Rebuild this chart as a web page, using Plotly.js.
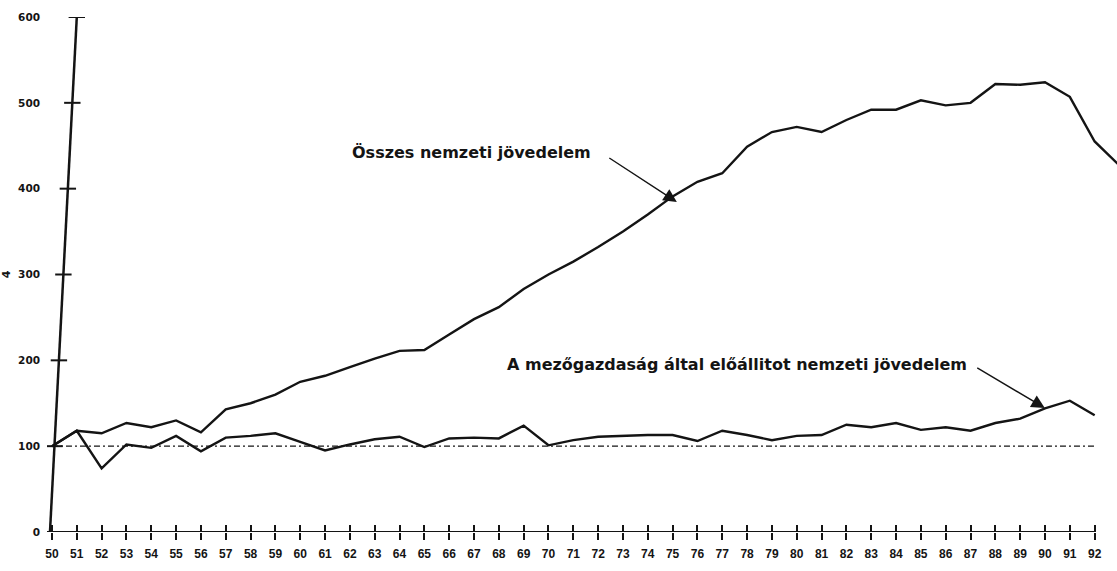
<!DOCTYPE html>
<html>
<head>
<meta charset="utf-8">
<script src="https://cdn.plot.ly/plotly-3.0.1.min.js"></script>
<style>
  html, body { margin: 0; padding: 0; background: #fff; }
  #chart { width: 1117px; height: 571px; }
</style>
</head>
<body>
<div id="chart"></div>
<script>
// ---- data ----
const years = [50,51,52,53,54,55,56,57,58,59,60,61,62,63,64,65,66,67,68,69,70,71,72,73,74,75,76,77,78,79,80,81,82,83,84,85,86,87,88,89,90,91,92,93];
const yearLabels = ['50','51','52','53','54','55','56','57','58','59','60','61','62','63','64','65','66','67','68','69','70','71','72','73','74','75','76','77','78','79','80','81','82','83','84','85','86','87','88','89','90','91','92'];
const totalIncome = [100,118,115,127,122,130,116,143,150,160,175,182,192,202,211,212,230,248,262,283,300,315,332,350,370,391,408,418,449,466,472,466,480,492,492,503,497,500,522,521,524,507,455,427];
const agriIncome = [100,118,74,102,98,112,94,110,112,115,105,95,102,108,111,99,109,110,109,124,101,107,111,112,113,113,106,118,113,107,112,113,125,122,127,119,122,118,127,132,144,153,136];
const yTicks = [0,100,200,300,400,500,600];
const baseLevel = 100;
const labelTotal = 'Összes nemzeti jövedelem';
const labelAgri = 'A mezőgazdaság által előállitot nemzeti jövedelem';
const yTitle = '4';

// ---- styling ----
const ink = '#141414';
const tickYears = years.slice(0, yearLabels.length);
const firstYear = tickYears[0], lastYear = tickYears[tickYears.length - 1];

// slanted y axis (scan skew): year-position of the axis at value v
const slantBottom = 49.92, slantTop = 51.0, yMax = yTicks[yTicks.length - 1];
const slantX = v => slantBottom + (v / yMax) * (slantTop - slantBottom);

const shapes = [];
// dashed 100 baseline
shapes.push({type: 'line', xref: 'x', yref: 'y', x0: firstYear, x1: lastYear, y0: baseLevel, y1: baseLevel,
  line: {color: ink, width: 1.4, dash: '6px,3px,2px,3px'}, layer: 'below'});
// x axis line
shapes.push({type: 'line', xref: 'x', yref: 'y', x0: 49.75, x1: lastYear, y0: 0, y1: 0,
  line: {color: ink, width: 2}});
// slanted y axis line
shapes.push({type: 'line', xref: 'x', yref: 'y', x0: slantX(-8), x1: slantX(yMax), y0: -8, y1: yMax,
  line: {color: ink, width: 2.5}});
// y tick marks on the slanted axis
yTicks.forEach(v => {
  if (v === 0) return;
  const c = slantX(v);
  shapes.push({type: 'line', xref: 'x', yref: 'y', x0: c - 0.33, x1: c + 0.33, y0: v, y1: v,
    line: {color: ink, width: 2}});
});

const traces = [
  {x: years.slice(0, totalIncome.length), y: totalIncome, type: 'scatter', mode: 'lines',
   line: {color: ink, width: 2.4}, name: labelTotal, hoverinfo: 'x+y'},
  {x: years.slice(0, agriIncome.length), y: agriIncome, type: 'scatter', mode: 'lines',
   line: {color: ink, width: 2.4}, name: labelAgri, hoverinfo: 'x+y'},
  // invisible trace on overlay axis to carry the upward half of the crossing tick marks
  {x: [firstYear, lastYear], y: [baseLevel, baseLevel], xaxis: 'x2', yaxis: 'y', mode: 'lines',
   line: {width: 0, color: 'rgba(0,0,0,0)'}, hoverinfo: 'skip', showlegend: false}
];

const annFont = {family: 'DejaVu Sans', size: 16, color: ink, weight: 'bold'};

const layout = {
  width: 1117, height: 571,
  margin: {l: 47, r: 0, t: 17, b: 39, pad: 0},
  paper_bgcolor: '#fff', plot_bgcolor: '#fff',
  showlegend: false,
  xaxis: {
    range: [49.8, 92.9], showgrid: false, zeroline: false, showline: false,
    tickmode: 'array', tickvals: tickYears, ticktext: yearLabels,
    ticks: 'outside', ticklen: 7, tickwidth: 2, tickcolor: ink,
    ticklabelstandoff: 4,
    tickfont: {family: 'Liberation Sans', size: 12, color: ink, weight: 'bold'}
  },
  xaxis2: {
    overlaying: 'x', anchor: 'y', side: 'bottom',
    range: [49.8, 92.9], showgrid: false, zeroline: false, showline: false,
    tickmode: 'array', tickvals: tickYears, showticklabels: false,
    ticks: 'inside', ticklen: 7, tickwidth: 2, tickcolor: ink
  },
  yaxis: {
    range: [0, yMax], showgrid: false, zeroline: false, showline: false,
    tickmode: 'array', tickvals: yTicks, ticktext: yTicks.map(String),
    ticks: '', ticklabelstandoff: 6,
    tickfont: {family: 'DejaVu Sans', size: 10.5, color: ink, weight: 'bold'},
    title: {text: yTitle, standoff: 6, font: {family: 'DejaVu Sans', size: 11, color: ink, weight: 'bold'}}
  },
  shapes: shapes,
  annotations: [
    {xref: 'x', yref: 'y', x: 66.91, y: 442.7, text: labelTotal, showarrow: false, font: annFont},
    {xref: 'x', yref: 'y', x: 75.17, y: 384.5, ax: 72.39, ay: 436.9, axref: 'x', ayref: 'y',
     text: '', showarrow: true, arrowhead: 2, arrowsize: 1.9, arrowwidth: 1.4, arrowcolor: ink, standoff: 0},
    {xref: 'x', yref: 'y', x: 77.59, y: 194.6, text: labelAgri, showarrow: false, font: annFont},
    {xref: 'x', yref: 'y', x: 89.99, y: 144.5, ax: 87.21, ay: 192.2, axref: 'x', ayref: 'y',
     text: '', showarrow: true, arrowhead: 2, arrowsize: 1.9, arrowwidth: 1.4, arrowcolor: ink, standoff: 0}
  ]
};

Plotly.newPlot('chart', traces, layout, {staticPlot: true, displayModeBar: false});
</script>
</body>
</html>
